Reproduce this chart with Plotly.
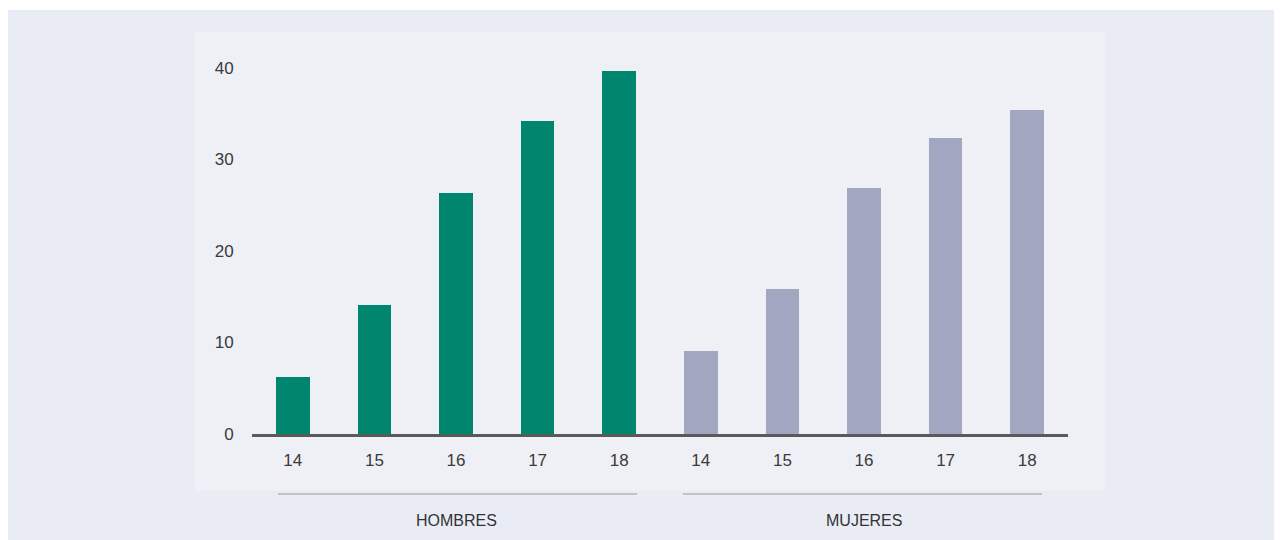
import plotly.graph_objects as go

# datos
edades = ["14", "15", "16", "17", "18"]
hombres = [6.2, 14.1, 26.3, 34.2, 39.7]
mujeres = [9.1, 15.8, 26.9, 32.3, 35.4]
grupos = ["HOMBRES", "MUJERES"]
y_ticks = [0, 10, 20, 30, 40]

x_h = list(range(len(edades)))
x_m = [i + len(edades) for i in x_h]

fig = go.Figure()
fig.add_trace(go.Bar(x=x_h, y=hombres, name=grupos[0], marker_color="#00856f",
                     marker_line_width=0, width=0.41))
fig.add_trace(go.Bar(x=x_m, y=mujeres, name=grupos[1], marker_color="#a1a6c1",
                     marker_line_width=0, width=0.41))

# la pagina tiene un margen de 8px
OFF = 8
W, H = 1282, 540
L, R, T, B = 252 - OFF, 1068 - OFF, 68 - OFF, 434 - OFF


def px(x):
    return (x - OFF - L) / (R - L)


def py(y):
    return (B - (y - OFF)) / (B - T)


shapes = [
    # fondo exterior
    dict(type="rect", xref="paper", yref="paper", x0=px(7), x1=px(W + 20), y0=py(10), y1=py(H + 20),
         fillcolor="#e9ecf4", line_width=0, layer="below"),
    # panel interior
    dict(type="rect", xref="paper", yref="paper", x0=px(195), x1=px(1105), y0=py(32), y1=py(491),
         fillcolor="#eef0f5", line_width=0, layer="below"),
    # lineas de grupo
    dict(type="line", xref="x", yref="paper", x0=-0.18, x1=4.22, y0=py(494), y1=py(494),
         line=dict(color="#9a9a9a", width=1)),
    dict(type="line", xref="x", yref="paper", x0=4.78, x1=9.18, y0=py(494), y1=py(494),
         line=dict(color="#9a9a9a", width=1)),
]

annotations = [
    dict(x=2, y=py(520), xref="x", yref="paper", text=grupos[0], showarrow=False,
         yanchor="middle", font=dict(size=16, color="#333333")),
    dict(x=7, y=py(520), xref="x", yref="paper", text=grupos[1], showarrow=False,
         yanchor="middle", font=dict(size=16, color="#333333")),
]

fig.update_layout(
    width=W, height=H,
    margin=dict(l=L, r=W - R, t=T, b=H - B, autoexpand=False),
    paper_bgcolor="white",
    plot_bgcolor="rgba(0,0,0,0)",
    showlegend=False,
    bargap=0,
    font=dict(family="Liberation Sans, Arial, sans-serif", size=17, color="#3a3a3a"),
    shapes=shapes,
    annotations=annotations,
)
fig.update_xaxes(range=[-0.5, 9.5], tickvals=x_h + x_m, ticktext=edades + edades,
                 showgrid=False, zeroline=False, showline=True, linecolor="#5a5a5a", linewidth=3,
                 ticks="outside", ticklen=9, tickcolor="rgba(0,0,0,0)")
fig.update_yaxes(range=[0, 40], tickvals=y_ticks, showgrid=False, zeroline=False, showline=False,
                 ticks="outside", ticklen=14, tickcolor="rgba(0,0,0,0)")

fig.write_html("out.html")
